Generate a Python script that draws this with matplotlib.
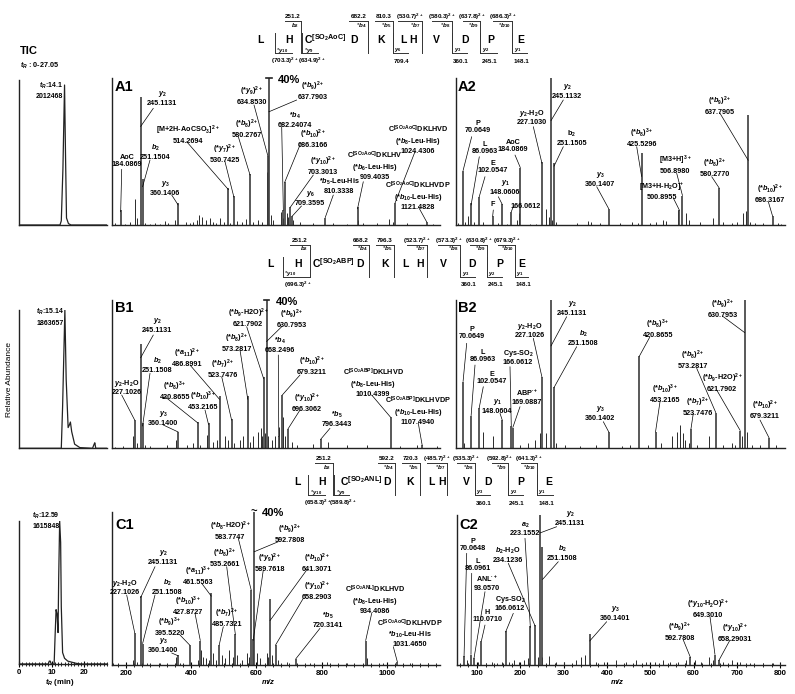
import numpy as np
import matplotlib.pyplot as plt
from matplotlib.lines import Line2D
from matplotlib.ticker import MultipleLocator

plt.rcParams['font.family'] = ['Liberation Sans', 'DejaVu Sans']
plt.rcParams['mathtext.fontset'] = 'custom'
plt.rcParams['mathtext.rm'] = 'Liberation Sans:bold'
plt.rcParams['mathtext.it'] = 'Liberation Sans:italic:bold'
plt.rcParams['mathtext.bf'] = 'Liberation Sans:bold'

# ---------------- data ----------------
# TIC traces (time in min, relative intensity %)
tic_a_t = [0, 12.6, 13.0, 13.5, 14.0, 14.3, 14.6, 15.2, 16.0, 27.05]
tic_a_i = [0, 0, 3, 40, 100, 50, 5, 1, 0, 0]
tic_b_t = [0, 13.0, 13.4, 14.1, 14.5, 15.1, 15.5, 15.8, 16.2, 17.1, 18.7, 22.6, 23.1, 23.3, 23.6, 27.05]
tic_b_i = [0, 0, 30, 100, 50, 15, 17, 19, 12, 3, 0.5, 0, 3, 4, 0, 0]
tic_c_t = [0, 9.0, 9.3, 9.6, 9.9, 10.8, 11.1, 11.4, 11.7, 12.0, 12.2, 12.5, 12.8, 13.0, 13.4, 14.0, 15.0, 17.5, 19.0, 27.05]
tic_c_i = [0, 0, 2, 2, 0, 0, 20, 38, 35, 22, 60, 100, 85, 40, 8, 4, 2, 0.5, 0, 0]

AOC = r'C$^{\mathrm{[SO_2AoC]}}$'
ABP = r'C$^{\mathrm{[SO_2ABP]}}$'
ANL = r'C$^{\mathrm{[SO_2ANL]}}$'

# A1
a1_mz = [184.0869, 245.1131, 251.1504, 360.1406, 514.2694, 530.7425, 580.2767, 634.8530, 637.7903,
         682.24074, 686.3166, 703.3013, 709.3595, 810.3338, 909.4035, 1024.4306, 1121.4828]
a1_int = [10, 87, 31, 15, 25, 20, 35, 47, 100, 10, 29, 12, 6, 5, 12, 15, 2]
a1_lab = ["AoC\n184.0869", "$y_2$\n245.1131", "$b_2$\n251.1504", "$y_3$\n360.1406",
          "[M+2H-AoCSO$_3$]$^{2+}$\n514.2694", "(*$y_7$)$^{2+}$\n530.7425", "(*$b_8$)$^{2+}$\n580.2767",
          "(*$y_9$)$^{2+}$\n634.8530", "(*$b_9$)$^{2+}$\n637.7903", "*$b_4$\n682.24074",
          "(*$b_{10}$)$^{2+}$\n686.3166", "(*$y_{10}$)$^{2+}$\n703.3013", "$y_6$\n709.3595",
          "*$b_5$-Leu-His\n810.3338", AOC + "DKLHV\n(*$b_6$-Leu-His)\n909.4035",
          AOC + "DKLHVD\n(*$b_8$-Leu-His)\n1024.4306",
          AOC + "DKLHVDP\n(*$b_{10}$-Leu-His)\n1121.4828"]
a1_minor_mz = [166.7, 197, 212.7, 228, 233, 260, 275, 290, 305, 320, 330, 350.5, 384, 395, 405, 417, 425, 432,
               445.5, 457.7, 468, 475, 488.3, 500.6, 520, 539, 555, 567, 590, 606, 618, 630.8, 643, 652, 674,
               680, 692.5, 697.6, 713, 733, 774, 835.5, 876, 912, 927, 968, 1007, 1019.5, 1060, 1142]
a1_minor_int = [1.6, 1, 2, 18, 4.5, 1.2, 1, 1.5, 1, 3, 1.6, 3.4, 2, 1.5, 2, 3.4, 6.8, 5.7,
                3.4, 4.5, 2.3, 1.5, 4.5, 2, 1.6, 3, 2.3, 4, 2.3, 3.4, 2.3, 36, 7, 3.4, 9,
                4.5, 8, 5.7, 3.4, 2.3, 1.6, 1.6, 1, 3.4, 1.6, 1.6, 4, 2.3, 1.6, 1]

# A2
a2_mz = [70.0649, 86.0963, 102.0547, 148.0606, 129.0, 166.0612, 184.0869, 227.1030, 245.1132, 251.1505,
         360.1407, 425.5296, 500.8955, 506.8980, 580.2770, 637.7905, 686.3167]
a2_int = [37, 15, 19, 14, 6, 9, 39, 43, 100, 42, 11, 49, 10, 20, 25, 75, 6]
a2_lab = ["P\n70.0649", "L\n86.0963", "E\n102.0547", "$y_1$\n148.0606", "F", "166.0612",
          "AoC\n184.0869", "$y_2$-H$_2$O\n227.1030", "$y_2$\n245.1132", "b$_2$\n251.1505",
          "$y_3$\n360.1407", "(*$b_8$)$^{3+}$\n425.5296", "[M3+H-H$_2$O]$^{+}$\n500.8955",
          "[M3+H]$^{3+}$\n506.8980", "(*$b_8$)$^{2+}$\n580.2770", "(*$b_9$)$^{2+}$\n637.7905",
          "(*$b_{10}$)$^{2+}$\n686.3167"]
a2_minor_mz = [60, 73.4, 80, 92, 110, 140, 157.7, 177.6, 181.6, 203, 216, 234.7, 241.4, 248, 256, 296, 319,
               325.7, 342, 382, 405.4, 418.7, 442, 455, 468.5, 475, 498, 513.6, 520, 541.5, 568, 588,
               604.6, 614.5, 627.8, 633, 641, 651, 667.7, 697.5, 704]
a2_minor_int = [1.6, 2.3, 6, 2.3, 2.3, 1.6, 1, 3.4, 8, 1, 1, 10.7, 5.7, 3.4, 2.3, 1.6, 3,
                2.3, 1.6, 1.6, 2.3, 1.6, 1.6, 2.3, 3.4, 3, 10, 8.4, 3.4, 2.3, 5, 2.3,
                1.6, 2.3, 8, 9.8, 2.3, 1.6, 1.6, 1.6, 1]

# B1
b1_mz = [227.1026, 245.1131, 251.1508, 360.1400, 420.8655, 453.2165, 486.8991, 523.7476, 573.2817,
         621.7902, 630.7953, 668.2496, 679.3211, 696.3062, 796.3443, 1010.4399, 1107.4940]
b1_int = [19, 70, 17, 11, 18, 17, 35, 20, 35, 48, 100, 8, 36, 13, 6, 21, 2]
b1_lab = ["$y_2$-H$_2$O\n227.1026", "$y_2$\n245.1131", "$b_2$\n251.1508", "$y_3$\n360.1400",
          "(*$b_8$)$^{3+}$\n420.8655", "(*$b_{10}$)$^{3+}$\n453.2165", "(*$a_{11}$)$^{2+}$\n486.8991",
          "(*$b_7$)$^{2+}$\n523.7476", "(*$b_8$)$^{2+}$\n573.2817", "(*$b_9$-H2O)$^{2+}$\n621.7902",
          "(*$b_9$)$^{2+}$\n630.7953", "*$b_4$\n668.2496", "(*$b_{10}$)$^{2+}$\n679.3211",
          "(*$y_{10}$)$^{2+}$\n696.3062", "*$b_5$\n796.3443",
          ABP + "DKLHVD\n(*$b_8$-Leu-His)\n1010.4399",
          ABP + "DKLHVDP\n(*$b_{10}$-Leu-His)\n1107.4940"]
b1_minor_mz = [166.7, 192, 220.8, 233, 258.6, 274, 325, 353.6, 388, 406.6, 427, 449.5, 468, 480, 503.6, 514,
               531, 549.6, 560, 580, 590, 605.8, 613, 618, 626, 636, 646.6, 656.8, 670, 682.3, 687.4,
               707.8, 723, 774, 820, 876, 937.6, 1039.7, 1090.7, 1152]
b1_minor_int = [1, 1.6, 8, 3.4, 2.3, 1.8, 2.3, 5.6, 2.3, 3.4, 2.3, 9, 4.5, 5.6, 8, 5.6,
                3.4, 5.6, 8, 4.5, 8, 11, 13.5, 8, 10, 8, 5.6, 8, 14.6, 21, 8,
                4.5, 2.3, 3, 4.5, 2.3, 2.3, 1.8, 2.3, 1.8]

# B2
b2_mz = [70.0649, 86.0963, 102.0547, 148.0604, 166.0612, 169.0887, 227.1026, 245.1131, 251.1508,
         360.1402, 420.8655, 453.2165, 523.7476, 573.2817, 621.7902, 630.7953, 679.3211]
b2_int = [45, 22, 27, 19, 15, 14, 48, 100, 41, 11, 62, 11, 13, 24, 12, 100, 7]
b2_lab = ["P\n70.0649", "L\n86.0963", "E\n102.0547", "$y_1$\n148.0604", "Cys-SO$_2$\n166.0612",
          "ABP$^{\\bullet+}$\n169.0887", "$y_2$-H$_2$O\n227.1026", "$y_2$\n245.1131", "$b_2$\n251.1508",
          "$y_3$\n360.1402", "(*$b_8$)$^{3+}$\n420.8655", "(*$b_{10}$)$^{3+}$\n453.2165",
          "(*$b_7$)$^{2+}$\n523.7476", "(*$b_8$)$^{2+}$\n573.2817", "(*$b_9$-H2O)$^{2+}$\n621.7902",
          "(*$b_9$)$^{2+}$\n630.7953", "(*$b_{10}$)$^{2+}$\n679.3211"]
b2_minor_mz = [71.4, 110, 130, 183, 199.5, 212.8, 222.8, 234.7, 254.6, 272.6, 302.5, 335.7, 385.5, 402,
               438.6, 465, 487, 495, 501.7, 507, 511.6, 520, 535, 560, 588, 604.6, 611, 624.5, 634.5,
               644.4, 661, 694]
b2_minor_int = [3.4, 11, 8, 2.3, 3.8, 5.6, 10, 10, 3.4, 2.3, 1.6, 2.3, 1.8, 2.3,
                2.3, 3.4, 8, 11, 15.8, 10, 5.6, 3.4, 2.3, 8, 2.3, 3.4, 2.3, 8, 11,
                2.3, 2.3, 2.3]

# C1
c1_mz = [227.1026, 245.1131, 251.1508, 360.1400, 395.5220, 427.8727, 461.5563, 485.7321, 535.2661,
         583.7747, 589.7618, 592.7808, 641.3071, 658.2903, 720.3141, 934.4086, 1031.4650]
c1_int = [21, 45, 14, 6.5, 13, 16, 47, 13, 20, 49, 17, 100, 43, 13, 4, 16, 2]
c1_lab = ["$y_2$-H$_2$O\n227.1026", "$y_2$\n245.1131", "$b_2$\n251.1508", "$y_3$\n360.1400",
          "(*$b_9$)$^{3+}$\n395.5220", "(*$b_{10}$)$^{3+}$\n427.8727", "(*$a_{11}$)$^{3+}$\n461.5563",
          "(*$b_7$)$^{2+}$\n485.7321", "(*$b_8$)$^{2+}$\n535.2661", "(*$b_8$-H2O)$^{2+}$\n583.7747",
          "(*$y_9$)$^{2+}$\n589.7618", "(*$b_9$)$^{2+}$\n592.7808", "(*$b_{10}$)$^{2+}$\n641.3071",
          "(*$y_{10}$)$^{2+}$\n658.2903", "*$b_5$\n720.3141",
          ANL + "DKLHVD\n(*$b_8$-Leu-His)\n934.4086",
          AOC + "DKLHVDP\n*$b_{10}$-Leu-His\n1031.4650"]
c1_minor_mz = [161.6, 220.8, 233, 263.7, 304.6, 353.6, 365.8, 422, 430, 437, 445.5, 455.6, 468, 476, 493.5,
               503.6, 517, 527, 541.4, 554.7, 570, 578, 600.7, 611, 631, 636, 648.6, 667, 692.5, 764, 815,
               876, 937, 988.6, 1070, 1126]
c1_minor_int = [1, 3.3, 2, 1.5, 1.5, 5.4, 1.5, 3.3, 9.8, 5.4, 4.4, 3.3, 7.6, 3.3, 6.5,
                4.4, 9.8, 5.4, 6.5, 3.3, 7.6, 5.4, 7.6, 4.4, 7.6, 5.4, 6.5, 3.3, 2.2, 1.5, 2.2,
                1.5, 4.4, 1.5, 1.5, 1.5]

# C2
c2_mz = [70.0648, 86.0961, 93.0570, 110.0710, 166.0612, 223.1552, 234.1236, 245.1131, 251.1508,
         360.1401, 592.7808, 649.3010, 658.29031]
c2_int = [6, 7, 4.5, 16, 22.5, 26, 27, 100, 79, 21, 5.6, 7, 3.4]
c2_lab = ["P\n70.0648", "L\n86.0961", "ANL$^{\\bullet+}$\n93.0570", "H\n110.0710", "Cys-SO$_2$\n166.0612",
          "$a_2$\n223.1552", "$b_2$-H$_2$O\n234.1236", "$y_2$\n245.1131", "$b_2$\n251.1508",
          "$y_3$\n360.1401", "(*$b_9$)$^{2+}$\n592.7808", "(*$y_{10}$-H$_2$O)$^{2+}$\n649.3010",
          "(*$y_{10}$)$^{2+}$\n658.29031"]
c2_minor_mz = [54.6, 77.8, 103, 120, 135.7, 147, 157, 174, 186, 197.5, 209, 216.7, 240, 249, 267, 282.4,
               301.7, 328.7, 340, 350.3, 375, 394.3, 421.3, 444.5, 467.6, 490.8, 510, 529.4, 545, 564,
               583.4, 602.7, 618, 636, 643.7, 668.4, 688, 707, 730, 761, 784, 800]
c2_minor_int = [1.6, 3.4, 2.3, 1.6, 2.3, 1.6, 2.3, 2.3, 3.4, 2.3, 3.4, 4.5, 5.6, 5.6, 6, 2.3,
                2.3, 3.4, 5.6, 6.8, 2.3, 2.3, 3.4, 2.3, 3.4, 2.3, 2.3, 3.4, 2.3, 2.3,
                3.4, 3.4, 2.3, 5.6, 3.4, 2.3, 3.4, 2.3, 1.6, 1.6, 1.6, 1.6]

# peptide sequences
residues = ['L', 'H', 'C', 'D', 'K', 'L', 'H', 'V', 'D', 'P', 'E']
mods = ['SO_2AoC', 'SO_2ABP', 'SO_2ANL']
seq_a_ions = [('b', '$b_2$', '251.2'), ('b', '*$b_4$', '682.2'), ('b', '*$b_5$', '810.3'),
              ('b', '*$b_7$', '(530.7)$^{2+}$'), ('b', '*$b_8$', '(580.3)$^{2+}$'),
              ('b', '*$b_9$', '(637.8)$^{2+}$'), ('b', '*$b_{10}$', '(686.3)$^{2+}$'),
              ('y', '*$y_{10}$', '(703.3)$^{2+}$'), ('y', '*$y_9$', '(634.9)$^{2+}$'),
              ('y', '$y_6$', '709.4'), ('y', '$y_3$', '360.1'), ('y', '$y_2$', '245.1'), ('y', '$y_1$', '148.1')]
seq_b_ions = [('b', '$b_2$', '251.2'), ('b', '*$b_4$', '668.2'), ('b', '*$b_5$', '796.3'),
              ('b', '*$b_7$', '(523.7)$^{2+}$'), ('b', '*$b_8$', '(573.3)$^{2+}$'),
              ('b', '*$b_9$', '(630.8)$^{2+}$'), ('b', '*$b_{10}$', '(679.3)$^{2+}$'),
              ('y', '*$y_{10}$', '(696.3)$^{2+}$'), ('y', '$y_3$', '360.1'), ('y', '$y_2$', '245.1'),
              ('y', '$y_1$', '148.1')]
seq_c_ions = [('b', '$b_2$', '251.2'), ('b', '*$b_4$', '592.2'), ('b', '*$b_5$', '720.3'),
              ('b', '*$b_7$', '(485.7)$^{2+}$'), ('b', '*$b_8$', '(535.3)$^{2+}$'),
              ('b', '*$b_9$', '(592.8)$^{2+}$'), ('b', '*$b_{10}$', '(641.3)$^{2+}$'),
              ('y', '*$y_{10}$', '(658.3)$^{2+}$'), ('y', '*$y_9$', '(589.8)$^{2+}$'),
              ('y', '$y_3$', '360.1'), ('y', '$y_2$', '245.1'), ('y', '$y_1$', '148.1')]

# ---------------- layout (pixels of the 795x694 canvas) ----------------
W, H = 795, 694
fig = plt.figure(figsize=(7.95, 6.94), dpi=100)


def fx(x):
    return x / W


def fy(y):
    return 1 - y / H


def line(x0, y0, x1, y1, lw=0.7, c='#333333'):
    fig.add_artist(Line2D([fx(x0), fx(x1)], [fy(y0), fy(y1)], lw=lw, color=c))


def box(l, t, r, b):
    ax = fig.add_axes([fx(l), fy(b), (r - l) / W, (b - t) / H])
    for s in ('top', 'right'):
        ax.spines[s].set_visible(False)
    for s in ('left', 'bottom'):
        ax.spines[s].set_linewidth(1.0)
        ax.spines[s].set_color('#222222')
    ax.set_xticks([])
    ax.set_yticks([])
    ax.patch.set_alpha(0)
    return ax


def spectrum(bx, xlim, mz, inten, labels, minor_mz, minor_int, txt, lead, tag, tag_xy):
    ax = box(*bx)
    ax.set_xlim(xlim)
    ax.set_ylim(0, 100)
    ax.vlines(minor_mz, 0, minor_int, colors='#2a2a2a', lw=0.7)
    ax.vlines(mz, 0, inten, colors='#3c3c3c', lw=1.2)
    for lab, (cx, cy), (sx, sy, tip), m in zip(labels, txt, lead, mz):
        fig.text(fx(cx), fy(cy), lab, ha='center', va='center', fontsize=5.2,
                 fontweight='bold', linespacing=1.15)
        ax.annotate('', xy=(m, tip), xytext=(fx(sx), fy(sy)), textcoords='figure fraction',
                    arrowprops=dict(arrowstyle='-', lw=0.5, color='k', shrinkA=0, shrinkB=0),
                    annotation_clip=False)
    fig.text(fx(tag_xy[0]), fy(tag_xy[1]), tag, fontsize=10.5, fontweight='bold', ha='left', va='center')
    return ax


def mz_axis(ax, major, minor, xlab_xy):
    ax.set_xticks(major)
    ax.xaxis.set_minor_locator(MultipleLocator(minor))
    ax.tick_params(axis='x', which='major', direction='inout', length=4, width=0.8, labelsize=5.6, pad=1.5)
    ax.tick_params(axis='x', which='minor', direction='inout', length=2.5, width=0.6)
    for t in ax.get_xticklabels():
        t.set_fontweight('bold')
    fig.text(fx(xlab_xy[0]), fy(xlab_xy[1]), 'm/z', fontsize=5.6, fontweight='bold', style='italic',
             ha='center', va='center')


def cut_mark(ax, m, dx, text, tilde=False):
    if tilde:
        ax.annotate('~', xy=(m, 100), xytext=(0, 0), textcoords='offset points', ha='center',
                    va='center', fontsize=8, fontweight='bold', annotation_clip=False)
        ax.annotate(text, xy=(m, 100), xytext=(5.5, -0.5), textcoords='offset points', ha='left',
                    va='center', fontsize=8, fontweight='bold', annotation_clip=False)
    else:
        ax.plot([m - dx, m + dx], [100, 100], color='#222222', lw=1.2, clip_on=False)
        ax.annotate(text, xy=(m, 100), xytext=(6.5, -1.5), textcoords='offset points', ha='left',
                    va='center', fontsize=8, fontweight='bold', annotation_clip=False)


# A1
a1_txt = [(127, 161), (162, 98), (155, 152), (165, 188), (188, 134), (225, 153), (247, 128), (252, 95),
          (313, 90), (295, 120), (313, 138), (323, 165), (310, 198), (339, 186), (375, 165), (418, 139),
          (418, 195)]
a1_lead = [(121.7, 169.3, 9), (153.3, 108.3, 67), (150, 160, 26), (171.7, 195, 13.6), (186.7, 141.7, 24),
           (225, 161.7, 19), (238.3, 136.7, 34), (254, 105, 47), (296.7, 100, 77), (281.7, 126.7, 10),
           (300, 145, 29), (313.3, 175, 12), (301.5, 206, 6), (333.3, 195, 5), (363.3, 181.7, 11),
           (415, 151.7, 15), (418.3, 206.7, 2)]
ax = spectrum((112, 78, 440, 225), (157.5, 1162), a1_mz, a1_int, a1_lab, a1_minor_mz, a1_minor_int,
              a1_txt, a1_lead, 'A1', (115, 87))
cut_mark(ax, a1_mz[8], 9, '40%')

# A2
a2_txt = [(478, 127), (485, 148), (493, 167), (505, 187), (493, 205), (526, 206), (513, 146), (532, 117),
          (567, 91), (572, 138), (600, 179), (642, 137), (662, 191), (675, 164), (715, 167), (720, 105),
          (770, 193)]
a2_lead = [(471.7, 136.7, 37), (479.3, 156.7, 13.6), (485, 176.7, 19), (498.3, 196.7, 14), (493.3, 210, 6),
           (513.5, 206, 9), (515, 155, 39), (533.3, 126.7, 42), (563.3, 100, 71), (563.3, 146.7, 40),
           (596.7, 186.7, 11), (636.7, 146.7, 33), (673.3, 198, 10), (676.7, 173.3, 20), (711.7, 176.7, 25),
           (720, 113.3, 44), (768.3, 201.7, 6)]
spectrum((456, 78, 785, 225), (56, 711), a2_mz, a2_int, a2_lab, a2_minor_mz, a2_minor_int,
         a2_txt, a2_lead, 'A2', (458, 87))

# B1
b1_txt = [(127, 387), (157, 325), (157, 365), (163, 418), (175, 390), (203, 400), (187, 357), (223, 368),
          (237, 342), (248, 317), (292, 318), (280, 345), (312, 365), (307, 402), (337, 419), (373, 382),
          (418, 410)]
b1_lead = [(121.7, 395, 19), (153.3, 335, 61), (150, 373.3, 15), (163.3, 425, 11), (165, 396.7, 17),
           (205, 410, 16), (190, 365, 33), (221.7, 376.7, 19), (240, 350, 33), (246.7, 326.7, 47),
           (281.7, 326.7, 72), (278.3, 355, 8), (300, 375, 36), (300, 410, 13), (330, 428.3, 6),
           (371.7, 395, 21), (418.3, 423.3, 2)]
ax = spectrum((112, 300, 440, 448.3), (157.5, 1162), b1_mz, b1_int, b1_lab, b1_minor_mz, b1_minor_int,
              b1_txt, b1_lead, 'B1', (115, 308))
cut_mark(ax, b1_mz[10], 9, '40%')

# B2
b2_txt = [(472, 333), (483, 356), (492, 378), (497, 406), (518, 357), (527, 397), (530, 330), (572, 308),
          (583, 338), (600, 413), (658, 328), (665, 393), (698, 406), (693, 359), (722, 382), (723, 308),
          (765, 409)]
b2_lead = [(466.7, 343.3, 45), (475, 365, 22), (483.3, 386.7, 27), (500, 413.3, 19), (510, 366.7, 15),
           (520, 406.7, 14), (533.3, 338.3, 48), (566.7, 316.7, 69), (576.7, 346.7, 41), (603.3, 421.7, 11),
           (650, 336.7, 62), (660, 401.7, 11), (693.3, 413.3, 13), (696.7, 368.3, 24), (716.7, 390, 12),
           (723.3, 316.7, 78), (760, 420, 7)]
spectrum((456, 300, 785, 448.3), (56, 711), b2_mz, b2_int, b2_lab, b2_minor_mz, b2_minor_int,
         b2_txt, b2_lead, 'B2', (458, 308))

# C1
c1_txt = [(125, 587), (163, 557), (167, 587), (163, 645), (170, 626), (188, 605), (198, 575), (227, 617),
          (225, 557), (230, 530), (270, 562), (290, 533), (317, 562), (317, 590), (328, 620), (375, 599),
          (410, 633)]
c1_lead = [(126.7, 595, 21), (155, 566.7, 44), (155, 595, 14), (171.7, 653, 6), (180, 635, 13),
           (195, 613.3, 16), (201.7, 583.3, 45), (223.3, 626.7, 13), (226.7, 566.7, 20), (238.3, 538.3, 49),
           (263.3, 570, 16), (278.3, 541.7, 74), (306.7, 570, 29), (303.3, 598.3, 13), (320, 628.3, 4),
           (371.7, 613.3, 16), (393.3, 646.7, 2)]
ax = spectrum((112, 512, 440, 665), (157.5, 1162), c1_mz, c1_int, c1_lab, c1_minor_mz, c1_minor_int,
              c1_txt, c1_lead, 'C1', (115, 525))
cut_mark(ax, c1_mz[11], 9, '40%', tilde=True)
mz_axis(ax, np.arange(200, 1001, 200), 25, (268, 682))

# C2
c2_txt = [(473, 545), (478, 565), (487, 583), (487, 616), (510, 603), (525, 529), (508, 555), (570, 518),
          (562, 553), (615, 613), (680, 631), (708, 608), (735, 632)]
c2_lead = [(466.7, 553.3, 5.6), (471.7, 573.3, 7), (485, 591.7, 4.5), (485, 625, 16), (513.3, 613.3, 22),
           (525, 538.3, 25), (508.3, 563.3, 26), (556.7, 526.7, 88), (558.3, 561.7, 57), (606.7, 621.7, 16),
           (683.3, 640, 5), (710, 616.7, 7), (730, 640, 3)]
ax = spectrum((457, 515, 785, 665), (53.8, 811), c2_mz, c2_int, c2_lab, c2_minor_mz, c2_minor_int,
              c2_txt, c2_lead, 'C2', (459, 525))
mz_axis(ax, np.arange(100, 801, 100), 20, (617, 682))

# TIC column
ax = box(19, 80, 107, 225)
ax.plot(tic_a_t, tic_a_i, color='#222222', lw=0.9)
ax.set_xlim(0, 27.05)
ax.set_ylim(0, 103.6)
ax = box(19, 310, 107, 448.3)
ax.plot(tic_b_t, tic_b_i, color='#222222', lw=0.9)
ax.set_xlim(0, 27.05)
ax.set_ylim(0, 100)
ax = box(19, 521, 107, 664)
ax.plot(tic_c_t, tic_c_i, color='#222222', lw=0.9)
ax.set_xlim(0, 27.05)
ax.set_ylim(0, 100)
ax.set_xticks([0, 10, 20])
ax.xaxis.set_minor_locator(MultipleLocator(1))
ax.tick_params(axis='x', which='major', direction='inout', length=4, width=0.8, labelsize=5.6, pad=1.5)
ax.tick_params(axis='x', which='minor', direction='inout', length=2.5, width=0.6)
for t in ax.get_xticklabels():
    t.set_fontweight('bold')
fig.text(fx(60), fy(682), '$t_R$ (min)', fontsize=5.6, fontweight='bold', ha='center', va='center')

fig.text(fx(20), fy(51), 'TIC', fontsize=8, fontweight='bold', ha='left', va='center')
fig.text(fx(20), fy(66), '$t_R$ : 0-27.05', fontsize=5.2, fontweight='bold', ha='left', va='center')
for (xr, y1, y2), (t1, t2) in zip([(63, 86, 97), (64, 312, 323), (60, 516, 526)],
                                   [('$t_R$:14.1', '2012468'), ('$t_R$:15.14', '1863657'),
                                    ('$t_R$:12.59', '1615848')]):
    fig.text(fx(xr), fy(y1), t1, fontsize=5, fontweight='bold', ha='right', va='center')
    fig.text(fx(xr), fy(y2), t2, fontsize=5, fontweight='bold', ha='right', va='center')
fig.text(fx(10), fy(380), 'Relative Abundance', fontsize=6, rotation=90, ha='center', va='center')


# sequence maps
def draw_seq(y0, res_x, mod, ions, brackets):
    for i, (r, x) in enumerate(zip(residues, res_x)):
        if r == 'C' and i == 2:
            fig.text(fx(x), fy(y0 - 0.5), r'C$^{\mathrm{[' + mod + ']}}$', fontsize=7.5, fontweight='bold',
                     ha='left', va='center')
        else:
            fig.text(fx(x), fy(y0), r, fontsize=7.5, fontweight='bold', ha='center', va='center')
    for (kind, ion, num), (x0, x1) in zip(ions, brackets):
        if kind == 'b':
            top, bot = y0 - 19, y0 + 13.3
            line(x0, top, x1, top)
            line(x1, top, x1, bot)
            fig.text(fx((x0 + x1) / 2), fy(top - 4), num, fontsize=4.5, fontweight='bold',
                     ha='center', va='center')
            fig.text(fx(x1 - 1.5), fy(top + 4.5), ion, fontsize=4.5, ha='right', va='center')
        else:
            top, bot = y0 - 7, y0 + 13.3
            line(x0, top, x0, bot)
            line(x0, bot, x1, bot)
            fig.text(fx(x0 + 1.5), fy(bot - 3), ion, fontsize=4.3, ha='left', va='center')
            fig.text(fx((x0 + x1) / 2 + 1.5), fy(bot + 8), num, fontsize=4.5, fontweight='bold',
                     ha='center', va='center')


draw_seq(40, [260, 289, 304, 354, 381, 403, 413, 436, 465, 491, 521], mods[0], seq_a_ions,
         [(285, 301), (349, 368), (375, 393), (398, 422), (432, 452), (463, 480), (493, 512),
          (275, 292), (302, 318), (393, 408), (452, 467), (480, 497), (512, 527)])
draw_seq(263.5, [270, 298, 312, 360, 385, 405, 420, 443, 472, 500, 522], mods[1], seq_b_ions,
         [(290, 310), (353, 369), (376, 394), (407, 427), (438, 460), (470, 487), (498, 515),
          (283, 310), (460, 475), (487, 502), (515, 528)])
draw_seq(482, [297, 322, 340, 387, 410, 431, 442, 466, 488, 521, 549], mods[2], seq_c_ions,
         [(315, 333), (378, 395), (402, 420), (427, 447), (457, 475), (492, 508), (521, 537),
          (308, 325), (334, 349), (475, 490), (508, 523), (537, 553)])

fig.savefig('out.png', dpi=100)
